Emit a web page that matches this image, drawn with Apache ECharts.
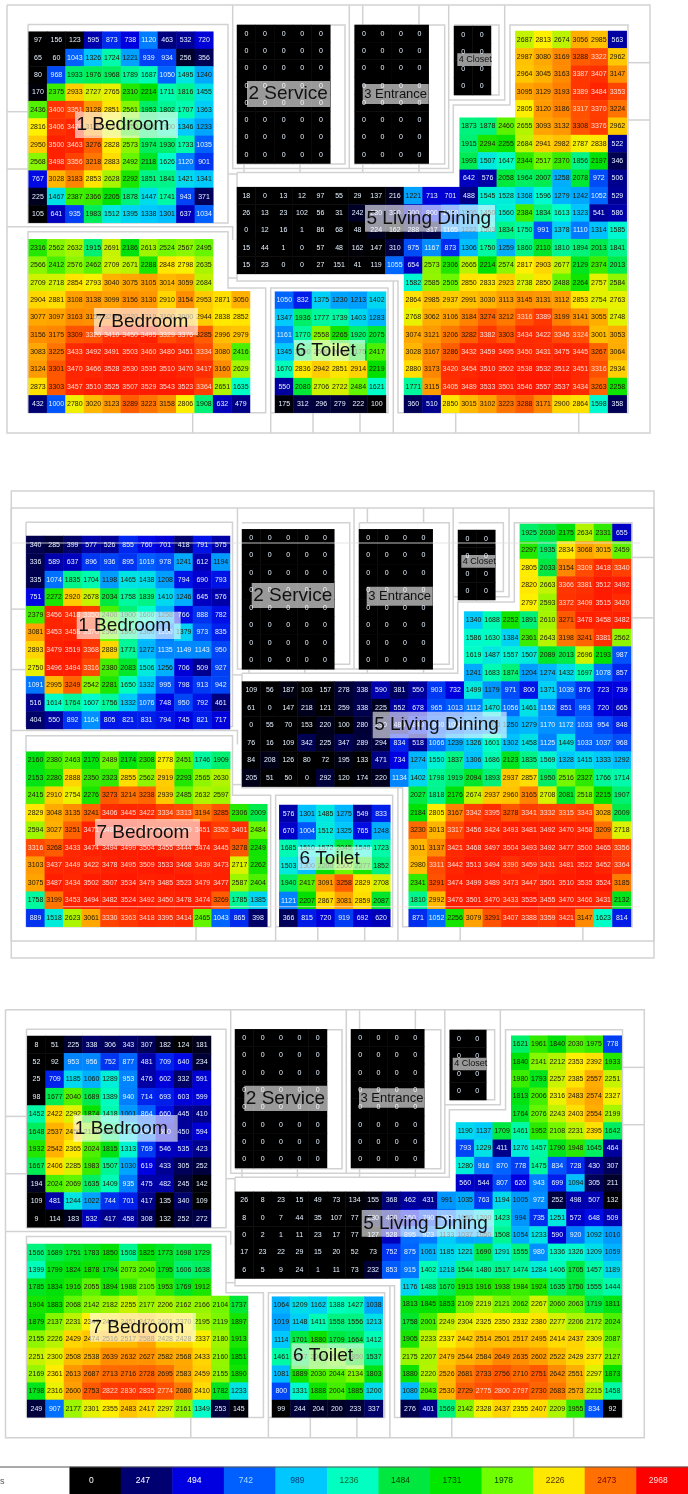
<!DOCTYPE html>
<html>
<head>
<meta charset="utf-8">
<style>
  html, body { margin: 0; padding: 0; background: #fff; }
  #main { width: 688px; height: 1494px; }
</style>
</head>
<body>
<div id="main"></div>
<script src="https://cdn.jsdelivr.net/npm/echarts@6/dist/echarts.min.js"></script>
<script>
// scale shown at the bottom
const legendLabels = [0, 247, 494, 742, 989, 1236, 1484, 1731, 1978, 2226, 2473, 2968]
const legendColors = ['#000000', '#000070', '#0000e0', '#0060ff', '#00c8ff', '#00ffc0', '#00e840', '#00e800', '#70ff00', '#ffe800', '#ff7000', '#ff0000']
const legendTextColors = ['#fff', '#fff', '#fff', '#a8dcff', '#0a3a70', '#063', '#040', '#040', '#040', '#530', '#700', '#ffd8d8']

// ---- plan 1 ----
const p1Bedroom1 = [
  [97, 156, 123, 595, 873, 738, 1120, 463, 532, 720],
  [65, 60, 1043, 1326, 1724, 1221, 939, 934, 256, 356],
  [80, 968, 1933, 1976, 1968, 1789, 1687, 1050, 1495, 1240],
  [170, 2375, 2933, 2727, 2765, 2310, 2214, 1711, 1816, 1455],
  [2436, 3400, 3351, 3128, 2851, 2561, 1953, 1802, 1707, 1363],
  [2816, 3406, 3470, 3120, 2750, 2350, 1950, 1700, 1346, 1233],
  [2950, 3500, 3463, 3276, 2828, 2573, 1974, 1930, 1733, 1035],
  [2568, 3498, 3356, 3218, 2883, 2492, 2118, 1626, 1120, 901],
  [767, 3028, 3183, 2853, 2628, 2292, 1851, 1841, 1421, 1341],
  [225, 1467, 2387, 2366, 2205, 1878, 1447, 1741, 943, 371],
  [105, 641, 935, 1983, 1512, 1395, 1338, 1301, 637, 1034]
]
const p1Living = [
  [2687, 2813, 2674, 3056, 2985, 563],
  [2987, 3080, 3169, 3288, 3322, 2962],
  [2964, 3045, 3163, 3387, 3407, 3147],
  [3095, 3129, 3193, 3389, 3484, 3353],
  [2805, 3120, 3186, 3317, 3370, 3224],
  [1873, 1878, 2460, 2655, 3093, 3132, 3308, 3376, 2962],
  [1915, 2294, 2255, 2684, 2941, 2982, 2787, 2838, 522],
  [1993, 1507, 1647, 2344, 2517, 2370, 1856, 2197, 346],
  [642, 576, 2058, 1964, 2007, 1258, 2078, 972, 506],
  [18, 0, 13, 12, 97, 55, 29, 137, 216, 1221, 713, 701, 488, 1545, 1528, 1368, 1596, 1279, 1242, 1052, 529],
  [26, 13, 23, 102, 56, 31, 242, 280, 310, 600, 800, 1000, 1200, 1450, 1560, 2384, 1834, 1613, 1323, 541, 586],
  [0, 12, 16, 1, 86, 68, 48, 224, 162, 288, 317, 1165, 1222, 1503, 1834, 1750, 991, 1378, 1110, 1314, 1585],
  [15, 44, 1, 0, 57, 48, 162, 147, 310, 975, 1167, 873, 1306, 1750, 1259, 1860, 2110, 1810, 1894, 2013, 1841],
  [15, 23, 0, 0, 27, 151, 41, 119, 1055, 654, 2573, 2306, 2665, 2214, 2574, 2817, 2903, 2677, 2129, 2374, 2013],
  [1582, 2585, 2505, 2850, 2833, 2923, 2738, 2850, 2488, 2264, 2757, 2584],
  [2864, 2985, 2937, 2991, 3030, 3113, 3145, 3131, 3112, 2853, 2754, 2763],
  [2768, 3062, 3106, 3184, 3274, 3212, 3316, 3389, 3199, 3141, 3055, 2748],
  [3074, 3121, 3206, 3282, 3382, 3303, 3434, 3422, 3345, 3324, 3001, 3053],
  [3028, 3167, 3286, 3432, 3459, 3495, 3450, 3431, 3475, 3445, 3267, 3064],
  [2880, 3173, 3420, 3454, 3510, 3502, 3538, 3532, 3512, 3451, 3316, 2934],
  [1771, 3115, 3405, 3489, 3533, 3501, 3546, 3557, 3537, 3434, 3263, 2258],
  [360, 510, 2850, 3015, 3102, 3223, 3288, 3171, 2900, 2864, 1598, 358]
]
const p1Toilet = [
  [1050, 832, 1375, 1230, 1213, 1402],
  [1347, 1936, 1777, 1739, 1403, 1283],
  [1161, 1770, 2558, 2265, 1920, 2075],
  [1345, 2000, 2500, 2600, 2175, 2417],
  [1670, 2836, 2942, 2851, 2914, 2219],
  [550, 2080, 2706, 2722, 2484, 1621],
  [175, 312, 296, 279, 222, 100]
]
const p1Bedroom7 = [
  [2316, 2562, 2632, 1915, 2691, 2186, 2613, 2524, 2567, 2495],
  [2566, 2412, 2576, 2462, 2709, 2671, 2288, 2848, 2798, 2635],
  [2709, 2718, 2854, 2793, 3040, 3075, 3105, 3014, 3059, 2684],
  [2904, 2881, 3108, 3138, 3099, 3156, 3130, 2910, 3154, 2953, 2871, 3050],
  [3077, 3097, 3163, 3150, 3200, 3220, 3210, 3100, 3000, 2944, 2838, 2852],
  [3156, 3175, 3309, 3320, 3410, 3450, 3495, 3329, 3376, 3285, 2996, 2979],
  [3083, 3225, 3433, 3492, 3491, 3503, 3460, 3480, 3451, 3334, 3080, 2416],
  [3124, 3301, 3470, 3466, 3528, 3530, 3535, 3510, 3470, 3417, 3160, 2629],
  [2873, 3303, 3457, 3510, 3525, 3507, 3529, 3543, 3523, 3364, 2651, 1635],
  [432, 1000, 2780, 3020, 3123, 3289, 3223, 3158, 2806, 1908, 632, 479]
]

// ---- plan 2 ----
const p2Bedroom1 = [
  [340, 285, 399, 577, 526, 855, 760, 701, 418, 791, 575],
  [336, 589, 637, 896, 936, 895, 1019, 978, 1241, 612, 1194],
  [335, 1074, 1835, 1704, 1198, 1465, 1438, 1208, 794, 690, 793],
  [751, 2272, 2920, 2678, 2034, 1758, 1839, 1410, 1246, 645, 576],
  [2379, 3456, 3418, 3350, 2400, 1900, 1600, 1258, 766, 888, 782],
  [3081, 3453, 3458, 3370, 2500, 1800, 1300, 1100, 1379, 973, 835],
  [2893, 3479, 3519, 3368, 2889, 1771, 1272, 1135, 1149, 1143, 950],
  [2750, 3496, 3494, 3316, 2380, 2083, 1506, 1256, 706, 509, 927],
  [1091, 2995, 3249, 2542, 2281, 1650, 1332, 995, 798, 913, 942],
  [516, 1614, 1764, 1607, 1756, 1332, 1076, 748, 950, 792, 461],
  [404, 550, 892, 1164, 805, 821, 831, 794, 745, 821, 717]
]
const p2Living = [
  [1925, 2030, 2175, 2634, 2331, 655],
  [2297, 1935, 2834, 3068, 3015, 2459],
  [2805, 2033, 3154, 3309, 3418, 3340],
  [2820, 2663, 3366, 3381, 3512, 3492],
  [2797, 2593, 3372, 3409, 3515, 3420],
  [1340, 1688, 2252, 1891, 2610, 3271, 3478, 3458, 3482],
  [1586, 1630, 1384, 2361, 2643, 3198, 3241, 3381, 2562],
  [1619, 1487, 1557, 1507, 2089, 2013, 2696, 2193, 987],
  [1241, 1683, 1874, 1204, 1274, 1432, 1697, 1078, 857],
  [109, 56, 187, 103, 157, 278, 338, 590, 381, 550, 903, 732, 1499, 1179, 971, 800, 1371, 1039, 876, 723, 739],
  [61, 0, 147, 218, 121, 259, 338, 225, 552, 678, 965, 1013, 1112, 1470, 1056, 1461, 1152, 851, 993, 720, 665],
  [0, 55, 70, 153, 220, 100, 280, 290, 480, 840, 1000, 1080, 1150, 1200, 1250, 1279, 1170, 1172, 1033, 954, 848],
  [76, 16, 109, 342, 225, 347, 289, 294, 834, 518, 1066, 1239, 1326, 1601, 1302, 1458, 1125, 1449, 1033, 1037, 968],
  [84, 208, 126, 80, 72, 195, 133, 471, 734, 1274, 1550, 1837, 1306, 1686, 2123, 1835, 1569, 1328, 1415, 1333, 1292],
  [205, 51, 50, 0, 292, 120, 174, 220, 1134, 1402, 1798, 1919, 2094, 1893, 2937, 2857, 1950, 2516, 2327, 1766, 1714],
  [2027, 1818, 2176, 2674, 2937, 2960, 3165, 2708, 2081, 2518, 2215, 1907],
  [2184, 2805, 3167, 3342, 3395, 3278, 3341, 3332, 3315, 3343, 3028, 2009],
  [3230, 3013, 3317, 3456, 3424, 3493, 3481, 3492, 3470, 3458, 3209, 2718],
  [3011, 3137, 3421, 3468, 3497, 3504, 3493, 3492, 3477, 3500, 3465, 3356],
  [2980, 3311, 3442, 3513, 3494, 3390, 3459, 3431, 3481, 3522, 3452, 3364],
  [2341, 3291, 3474, 3499, 3489, 3473, 3447, 3501, 3510, 3535, 3524, 3185],
  [1810, 2992, 3476, 3501, 3470, 3433, 3535, 3455, 3470, 3466, 3431, 2132],
  [871, 1052, 2256, 3079, 3291, 3407, 3388, 3359, 3421, 3147, 1623, 814]
]
const p2Toilet = [
  [576, 1301, 1485, 1275, 549, 833],
  [670, 1004, 1512, 1325, 765, 1248],
  [1685, 1510, 1572, 2045, 1549, 1723],
  [1503, 1300, 2200, 2500, 2277, 1852],
  [1940, 2417, 3091, 3258, 2829, 2708],
  [1121, 2207, 2867, 3081, 2859, 2087],
  [366, 815, 720, 919, 692, 620]
]
const p2Bedroom7 = [
  [2160, 2380, 2463, 2170, 2489, 2174, 2308, 2778, 2451, 1746, 1909],
  [2153, 2280, 2888, 2350, 2323, 2855, 2562, 2919, 2293, 2565, 2630],
  [2415, 2910, 2754, 2276, 3273, 3214, 3238, 2939, 2485, 2632, 2597],
  [2829, 3048, 3135, 3241, 3406, 3445, 3422, 3334, 3313, 3194, 3285, 2306, 2009],
  [2594, 3027, 3251, 3471, 3480, 3480, 3400, 3400, 3420, 3451, 3352, 3401, 2484],
  [3316, 3268, 3433, 3474, 3494, 3499, 3504, 3455, 3444, 3474, 3445, 3278, 2249],
  [3103, 3437, 3449, 3422, 3478, 3495, 3509, 3533, 3468, 3439, 3473, 2717, 2262],
  [3075, 3487, 3434, 3502, 3507, 3534, 3479, 3485, 3523, 3479, 3477, 2587, 2404],
  [1758, 3199, 3453, 3494, 3482, 3524, 3492, 3450, 3478, 3474, 3269, 1785, 1385],
  [889, 1518, 2623, 3061, 3330, 3363, 3418, 3395, 3414, 2465, 1043, 865, 398]
]

// ---- plan 3 ----
const p3Bedroom1 = [
  [8, 51, 225, 338, 306, 343, 307, 182, 124, 181],
  [52, 92, 953, 956, 752, 877, 481, 709, 640, 234],
  [25, 709, 1185, 1060, 1289, 953, 476, 602, 332, 591],
  [98, 1677, 2040, 1689, 1389, 940, 714, 693, 603, 599],
  [1452, 2422, 2292, 1874, 1418, 1001, 864, 660, 445, 410],
  [1648, 2537, 2450, 2150, 1600, 1200, 900, 600, 450, 594],
  [1932, 2542, 2365, 2024, 1815, 1313, 769, 546, 535, 423],
  [1667, 2406, 2285, 1983, 1507, 1030, 619, 433, 305, 252],
  [194, 2024, 2069, 1635, 1409, 935, 475, 482, 245, 142],
  [109, 481, 1244, 1022, 744, 701, 417, 135, 340, 109],
  [9, 114, 183, 532, 417, 458, 308, 132, 252, 272]
]
const p3Living = [
  [1621, 1961, 1840, 2030, 1975, 778],
  [1840, 2141, 2212, 2353, 2392, 1933],
  [1980, 1793, 2257, 2385, 2557, 2251],
  [1813, 2006, 2316, 2483, 2574, 2327],
  [1764, 2076, 2243, 2403, 2554, 2199],
  [1190, 1137, 1709, 1461, 1952, 2108, 2231, 2395, 1642],
  [793, 1229, 411, 1276, 1457, 1790, 1948, 1645, 464],
  [1280, 916, 870, 778, 1475, 834, 728, 430, 307],
  [560, 544, 807, 620, 943, 699, 1094, 305, 211],
  [26, 8, 23, 15, 49, 73, 134, 155, 368, 462, 431, 991, 1035, 763, 1194, 1005, 972, 252, 498, 507, 132],
  [8, 0, 7, 44, 35, 107, 77, 230, 420, 650, 790, 900, 1050, 1200, 1423, 994, 735, 1251, 572, 648, 509],
  [0, 2, 1, 11, 23, 17, 77, 127, 528, 895, 923, 1133, 1037, 1050, 1508, 1054, 1233, 590, 920, 1092, 1010],
  [17, 23, 22, 29, 15, 20, 52, 73, 752, 875, 1061, 1185, 1221, 1690, 1291, 1555, 980, 1336, 1326, 1209, 1059],
  [6, 5, 9, 24, 1, 11, 73, 232, 853, 915, 1402, 1218, 1544, 1480, 1517, 1474, 1284, 1406, 1705, 1457, 1189],
  [1176, 1488, 1670, 1913, 1916, 1938, 1984, 1924, 1635, 1750, 1555, 1444],
  [1813, 1845, 1853, 2109, 2219, 2121, 2062, 2267, 2060, 2063, 1719, 1811],
  [1758, 2001, 2249, 2304, 2325, 2350, 2332, 2380, 2277, 2206, 2172, 2024],
  [1905, 2233, 2337, 2442, 2514, 2501, 2517, 2495, 2414, 2437, 2309, 2087],
  [2175, 2207, 2479, 2544, 2584, 2649, 2635, 2602, 2522, 2429, 2377, 2127],
  [1880, 2220, 2526, 2681, 2733, 2756, 2710, 2751, 2642, 2551, 2297, 1873],
  [1080, 2043, 2530, 2729, 2775, 2800, 2797, 2730, 2683, 2573, 2215, 1458],
  [276, 401, 1569, 2142, 2328, 2437, 2355, 2407, 2209, 1955, 834, 92]
]
const p3Toilet = [
  [1064, 1209, 1162, 1388, 1427, 1038],
  [1019, 1148, 1411, 1558, 1556, 1213],
  [1114, 1701, 1880, 1709, 1664, 1412],
  [1461, 1687, 2000, 2100, 1850, 1537],
  [1081, 1889, 2030, 2044, 2134, 1803],
  [800, 1331, 1888, 2004, 1885, 1200],
  [99, 244, 204, 200, 233, 337]
]
const p3Bedroom7 = [
  [1566, 1689, 1751, 1783, 1850, 1508, 1825, 1773, 1698, 1729],
  [1399, 1799, 1824, 1878, 1794, 2073, 2040, 1795, 1606, 1638],
  [1785, 1834, 1916, 2055, 1894, 1988, 2105, 1953, 1769, 1912],
  [1904, 1883, 2068, 2142, 2182, 2255, 2177, 2206, 2162, 2166, 2104, 1737],
  [1879, 2137, 2231, 2347, 2400, 2451, 2476, 2401, 2370, 2195, 2119, 1897],
  [2155, 2226, 2429, 2474, 2516, 2517, 2588, 2428, 2428, 2337, 2180, 1913],
  [2251, 2300, 2508, 2538, 2639, 2632, 2627, 2582, 2568, 2433, 2160, 1851],
  [2169, 2361, 2613, 2687, 2713, 2716, 2728, 2695, 2583, 2459, 2155, 1890],
  [1798, 2316, 2600, 2753, 2822, 2830, 2835, 2774, 2680, 2410, 1782, 1233],
  [249, 907, 2177, 2301, 2355, 2483, 2417, 2297, 2161, 1349, 253, 145]
]

// rooms without any reading, same in all three plans
const serviceValues = [[0, 0, 0, 0, 0], [0, 0, 0, 0, 0], [0, 0, 0, 0, 0], [0, 0, 0, 0, 0], [0, 0, 0, 0, 0], [0, 0, 0, 0, 0], [0, 0, 0, 0, 0], [0, 0, 0, 0, 0]]
const entranceValues = [[0, 0, 0, 0], [0, 0, 0, 0], [0, 0, 0, 0], [0, 0, 0, 0], [0, 0, 0, 0], [0, 0, 0, 0], [0, 0, 0, 0], [0, 0, 0, 0]]
const closetValues = [[0, 0], [0, 0], [0, 0], [0, 0]]

// colour ramp, one stop per scale step
const ramp = ['#000000', '#000078', '#0000e0', '#0060ff', '#00c8ff', '#00ffc8', '#00f070', '#00e000', '#70f800', '#fff000', '#ffa000', '#ff3000', '#ff0000']

// layout: [left, top, right, bottom] of each room on the page, keep out of the data lists above
const plans = [
  {
    step: 296,
    rooms: [
      { values: p1Bedroom1, box: [28.7, 31.7, 213.3, 222.7] },
      { values: serviceValues, box: [237, 25, 330.3, 163.5] },
      { values: entranceValues, box: [354.7, 25, 428.7, 163.5] },
      { values: closetValues, box: [454, 26, 491, 95] },
      { values: p1Living, box: [237, 31, 626.7, 412.7], right: true },
      { values: p1Toilet, box: [275, 291.7, 386, 412.7] },
      { values: p1Bedroom7, box: [28.7, 239.3, 250, 412.7] }
    ],
    // text, left, top, right, bottom, font size
    labels: [
      ['1 Bedroom', 75, 112, 178, 138, 19],
      ['2 Service', 247, 81, 330, 107, 19],
      ['3 Entrance', 362.7, 84, 428.7, 104, 13],
      ['4 Closet', 457.3, 53.3, 491, 66, 9],
      ['5 Living Dining', 365, 205, 495, 231.7, 19],
      ['6 Toilet', 294, 340, 365, 361, 19],
      ['7 Bedroom', 94, 308, 198, 335, 19]
    ],
    mapX: [[7, 7], [650, 650]],
    mapY: [[5, 5], [433, 433]]
  },
  {
    step: 294,
    rooms: [
      { values: p2Bedroom1, box: [26.3, 536, 230, 729] },
      { values: serviceValues, box: [242, 529.3, 334.3, 669.3] },
      { values: entranceValues, box: [359, 529.3, 432.7, 669.3] },
      { values: closetValues, box: [458, 530, 495.3, 600] },
      { values: p2Living, box: [242, 524, 631, 926.7], right: true },
      { values: p2Toilet, box: [279.3, 805, 390.3, 926.7] },
      { values: p2Bedroom7, box: [26.3, 751.7, 267.3, 926.7] }
    ],
    labels: [
      ['1 Bedroom', 76.7, 611.7, 180.7, 639, 19],
      ['2 Service', 251.7, 583, 334, 608, 19],
      ['3 Entrance', 366.7, 586.7, 432.7, 605.7, 13],
      ['4 Closet', 461.3, 555, 495.3, 567.7, 9],
      ['5 Living Dining', 372.7, 711.7, 506.7, 738.3, 19],
      ['6 Toilet', 298, 846.7, 372, 870, 19],
      ['7 Bedroom', 95, 819, 200, 845.7, 19]
    ],
    mapX: [[7, 11.3], [28, 26], [228, 232.5], [237, 242], [650, 654]],
    mapY: [[5, 508], [25, 522.7], [31, 524], [412.7, 926.7], [433, 941]]
  },
  {
    step: 247.3,
    rooms: [
      { values: p3Bedroom1, box: [27.3, 1036, 211, 1227.3] },
      { values: serviceValues, box: [235, 1029.3, 327, 1168] },
      { values: entranceValues, box: [351, 1029.3, 424.3, 1168] },
      { values: closetValues, box: [449.7, 1030, 486.3, 1100] },
      { values: p3Living, box: [235, 1035.7, 621.7, 1417.3], right: true },
      { values: p3Toilet, box: [272, 1296.7, 383, 1417.3] },
      { values: p3Bedroom7, box: [27.2, 1244, 248, 1417.3] }
    ],
    labels: [
      ['1 Bedroom', 73.3, 1115, 177.7, 1141.7, 19],
      ['2 Service', 244.3, 1085.7, 327, 1111, 19],
      ['3 Entrance', 359, 1088.3, 424.3, 1107.7, 13],
      ['4 Closet', 452.7, 1057.7, 486.3, 1070.3, 9],
      ['5 Living Dining', 361.7, 1210, 494, 1236.7, 19],
      ['6 Toilet', 291.4, 1343.3, 364, 1369, 19],
      ['7 Bedroom', 90, 1313, 196, 1341.7, 19]
    ],
    mapX: [[7, 5.5], [28, 26.5], [228, 226], [237, 235], [628, 622.5], [650, 644.3]],
    mapY: [[5, 1009.7], [433, 1437.7]]
  }
]

// wall lines of the floor plan, in plan 1 page pixels, the other two are mapped from it
const walls = [
  [[7, 5], [650, 5], [650, 433], [7, 433], [7, 5]],
  [[28, 24.5], [228, 24.5], [228, 223], [28, 223], [28, 24.5]],
  [[7, 111.7], [28, 111.7]], [[7, 169], [28, 169]], [[228, 174], [237, 174]],
  [[7, 226.7], [232.7, 226.7], [232.7, 240]], [[228, 278], [237, 278]],
  [[237, 25], [345, 25], [345, 164], [237, 164]],
  [[349.3, 5], [349.3, 168.5]],
  [[354.7, 25], [444.7, 25], [444.7, 164], [354.7, 164], [354.7, 25]],
  [[362.7, 5], [362.7, 25]], [[419, 5], [419, 25]],
  [[244, 164], [244, 172.5]], [[300, 164], [300, 172.5]], [[362.7, 164], [362.7, 172.5]], [[419, 164], [419, 172.5]],
  [[448.7, 5], [448.7, 168.5], [232.7, 168.5], [232.7, 5]],
  [[454, 25], [499, 25], [499, 95], [454, 95]],
  [[504.7, 5], [504.7, 100], [448.7, 100]],
  [[237, 172.5], [453.3, 172.5], [453.3, 105], [510, 105], [510, 25], [628, 25], [628, 412.7], [398, 412.7], [398, 281], [237, 281], [237, 172.5]],
  [[628, 62.7], [650, 62.7]], [[628, 120], [650, 120]],
  [[393.3, 281], [393.3, 433]],
  [[270.7, 433], [270.7, 288], [388, 288], [388, 412.7], [270.7, 412.7]],
  [[28, 412.7], [28, 231.7], [228, 231.7], [228, 288], [265.7, 288], [265.7, 412.7], [28, 412.7]],
  [[192.7, 412.7], [192.7, 433]], [[313, 412.7], [313, 433]], [[360, 412.7], [360, 433]], [[455.7, 412.7], [455.7, 433]], [[578.7, 412.7], [578.7, 433]]
]

function mapPoint(v, pts) {
  for (let i = 1; i < pts.length; i++) {
    if (v <= pts[i][0] || i === pts.length - 1) {
      const a = pts[i - 1], b = pts[i]
      return a[1] + (v - a[0]) * (b[1] - a[1]) / (b[0] - a[0])
    }
  }
}

function textColor(v, step) {
  if (v < 4 * step) return '#e6f2ff'
  if (v >= 11.2 * step) return '#ffd8d0'
  return '#201800'
}

const grid = [], xAxis = [], yAxis = [], series = [], visualMap = [], graphic = []

function addGrid(box, cols, rows) {
  const i = grid.length
  grid.push({ left: box[0], top: box[1], width: box[2] - box[0], height: box[3] - box[1] })
  xAxis.push({ type: 'category', gridIndex: i, show: false, data: cols })
  yAxis.push({ type: 'category', gridIndex: i, show: false, inverse: true, data: rows })
  return i
}

plans.forEach((plan) => {
  const ids = []
  plan.rooms.forEach((room) => {
    const nCols = Math.max(...room.values.map((r) => r.length))
    const cols = Array.from({ length: nCols }, (_, i) => i)
    const rows = room.values.map((_, i) => i)
    const g = addGrid(room.box, cols, rows)
    const data = []
    room.values.forEach((row, y) => {
      // living room is flush right, the rest flush left
      const off = room.right ? nCols - row.length : 0
      row.forEach((v, x) => data.push({ value: [x + off, y, v], label: { color: textColor(v, plan.step) } }))
    })
    ids.push(series.length)
    series.push({
      type: 'heatmap',
      xAxisIndex: g,
      yAxisIndex: g,
      data,
      silent: true,
      progressive: 0,
      label: {
        show: true,
        fontSize: 7,
        fontFamily: 'Liberation Sans',
        textBorderColor: 'transparent',
        textBorderWidth: 0,
        formatter: (p) => String(p.value[2])
      }
    })
  })
  visualMap.push({
    type: 'continuous',
    show: false,
    seriesIndex: ids,
    dimension: 2,
    min: plan.step * 0.5,
    max: plan.step * 12.5,
    inRange: { color: ramp }
  })

  // walls
  walls.forEach((w) => {
    graphic.push({
      type: 'polyline',
      z: 1,
      silent: true,
      shape: { points: w.map((p) => [mapPoint(p[0], plan.mapX), mapPoint(p[1], plan.mapY)]) },
      style: { stroke: '#d2d2d2', lineWidth: 1.5, fill: null }
    })
  })

  // room names
  plan.labels.forEach((l) => {
    graphic.push({
      type: 'rect',
      z: 20,
      silent: true,
      shape: { x: l[1], y: l[2], width: l[3] - l[1], height: l[4] - l[2] },
      style: { fill: 'rgba(255,255,255,0.6)' }
    })
    graphic.push({
      type: 'text',
      z: 21,
      silent: true,
      x: l[1] + 1.5,
      y: (l[2] + l[4]) / 2,
      style: { text: l[0], font: l[5] + 'px "Liberation Sans"', fill: '#111', textAlign: 'left', textVerticalAlign: 'middle' }
    })
  })
})

// plan 2 sits in a taller frame and has two scan lines across it
graphic.push({ type: 'rect', z: 1, silent: true, shape: { x: 11.3, y: 491, width: 642.7, height: 467 }, style: { stroke: '#d2d2d2', lineWidth: 1.5, fill: null } })
graphic.push({ type: 'line', z: 15, silent: true, shape: { x1: 11, y1: 543, x2: 640, y2: 543 }, style: { stroke: 'rgba(225,225,225,0.85)', lineWidth: 1 } })
graphic.push({ type: 'line', z: 15, silent: true, shape: { x1: 63, y1: 906.7, x2: 640, y2: 906.7 }, style: { stroke: 'rgba(255,225,225,0.7)', lineWidth: 1 } })

// colour scale strip
const lg = addGrid([69.5, 1467, 688, 1494], legendLabels, [0])
series.push({
  type: 'heatmap',
  xAxisIndex: lg,
  yAxisIndex: lg,
  silent: true,
  data: legendLabels.map((v, i) => ({
    value: [i, 0, v],
    itemStyle: { color: legendColors[i] },
    label: { color: legendTextColors[i] }
  })),
  label: { show: true, fontSize: 8.5, fontFamily: 'Liberation Sans', textBorderColor: 'transparent', textBorderWidth: 0, offset: [-4, 0], formatter: (p) => String(p.value[2]) }
})
graphic.push({ type: 'line', z: 15, silent: true, shape: { x1: 0, y1: 1467, x2: 688, y2: 1467 }, style: { stroke: '#555', lineWidth: 1 } })
graphic.push({ type: 'line', z: 15, silent: true, shape: { x1: 69.5, y1: 1467, x2: 69.5, y2: 1494 }, style: { stroke: '#777', lineWidth: 1 } })
graphic.push({ type: 'text', z: 15, silent: true, x: 0, y: 1482, style: { text: 's', font: '9px "Liberation Sans"', fill: '#555', textVerticalAlign: 'middle' } })

const myChart = echarts.init(document.getElementById('main'), null, { renderer: 'canvas' })
myChart.setOption({
  animation: false,
  backgroundColor: '#fff',
  tooltip: { show: false },
  grid,
  xAxis,
  yAxis,
  visualMap,
  series,
  graphic: { elements: graphic }
})
</script>
</body>
</html>
